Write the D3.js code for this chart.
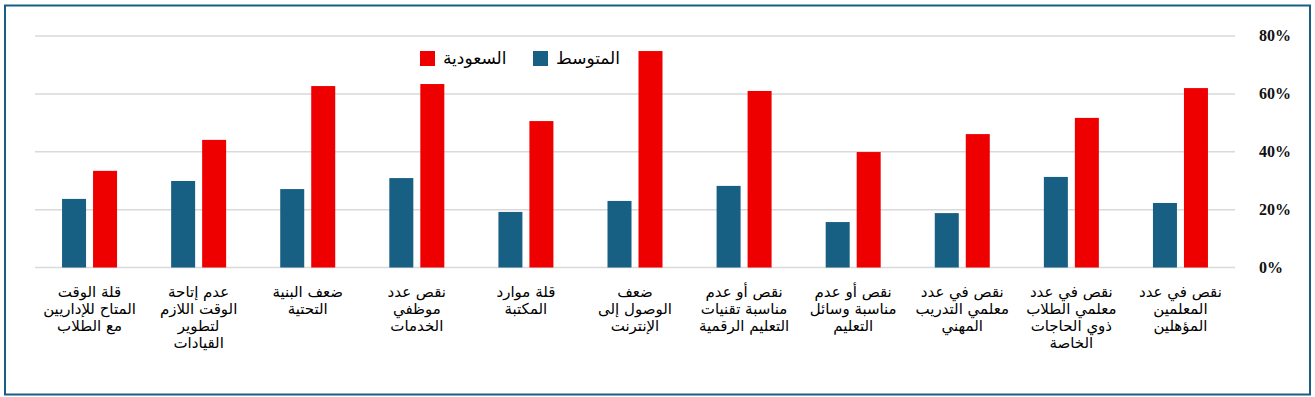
<!DOCTYPE html>
<html lang="ar">
<head>
<meta charset="utf-8">
<title>chart</title>
<script src="https://d3js.org/d3.v7.min.js"></script>
<style>
  body { margin: 0; background: #fff; }
  text { font-family: "DejaVu Sans", "Noto Sans", sans-serif; }
</style>
</head>
<body>
<div id="chart"></div>
<script>
// categories, right to left as in the original
var categories = [
  ["نقص في عدد", "المعلمين", "المؤهلين"],
  ["نقص في عدد", "معلمي الطلاب", "ذوي الحاجات", "الخاصة"],
  ["نقص في عدد", "معلمي التدريب", "المهني"],
  ["نقص أو عدم", "مناسبة وسائل", "التعليم"],
  ["نقص أو عدم", "مناسبة تقنيات", "التعليم الرقمية"],
  ["ضعف", "الوصول إلى", "الإنترنت"],
  ["قلة موارد", "المكتبة"],
  ["نقص عدد", "موظفي", "الخدمات"],
  ["ضعف البنية", "التحتية"],
  ["عدم إتاحة", "الوقت اللازم", "لتطوير", "القيادات"],
  ["قلة الوقت", "المتاح للإداريين", "مع الطلاب"]
];
var seriesNames = ["المتوسط", "السعودية"];
var avgValues   = [22.3, 31.3, 18.8, 15.7, 28.2, 23.0, 19.2, 30.9, 27.1, 29.9, 23.7];
var saudiValues = [62.0, 51.7, 46.1, 39.9, 61.0, 74.8, 50.6, 63.4, 62.7, 44.1, 33.4];
var yTicks = [0, 20, 40, 60, 80];
var colors = ["#175f83", "#ee0000"];

var W = 1315, H = 397;
var svg = d3.select("#chart").append("svg")
  .attr("width", W).attr("height", H);

// frame
svg.append("rect")
  .attr("x", 5).attr("y", 5.5)
  .attr("width", 1305).attr("height", 389)
  .attr("fill", "#fff")
  .attr("stroke", "#175f83")
  .attr("stroke-width", 2);

var plotLeft = 35, plotRight = 1235, plotTop = 36, plotBottom = 267.5;

var idx = d3.range(categories.length);
// reversed: first category drawn on the right
var x = d3.scaleBand().domain(idx).range([plotRight, plotLeft]);
var y = d3.scaleLinear().domain([0, 80]).range([plotBottom, plotTop]);

// gridlines
svg.append("g").selectAll("line")
  .data(yTicks).enter().append("line")
  .attr("x1", plotLeft).attr("x2", plotRight)
  .attr("y1", function(d) { return y(d); })
  .attr("y2", function(d) { return y(d); })
  .attr("stroke", "#d9d9d9")
  .attr("stroke-width", 1.5);

// y labels on the right
svg.append("g").selectAll("text")
  .data(yTicks).enter().append("text")
  .attr("x", 1259)
  .attr("y", function(d) { return y(d) + 5; })
  .style("font-size", "16px")
  .style("font-weight", "bold")
  .style("font-family", "'Liberation Serif', 'DejaVu Serif', serif")
  .attr("fill", "#111")
  .text(function(d) { return d + "%"; });

// bars
var barW = 24, gap = 7;
var series = [avgValues, saudiValues];
series.forEach(function(vals, s) {
  svg.append("g").selectAll("rect")
    .data(vals).enter().append("rect")
    .attr("x", function(d, i) {
      var c = x(i) + x.bandwidth() / 2;
      return s == 0 ? c - gap / 2 - barW : c + gap / 2;
    })
    .attr("y", function(d) { return y(d); })
    .attr("width", barW)
    .attr("height", function(d) { return y(0) - y(d); })
    .attr("fill", colors[s]);
});

// category labels
var lab = svg.append("g").selectAll("text")
  .data(categories).enter().append("text")
  .attr("text-anchor", "middle")
  .attr("font-size", 15)
  .attr("fill", "#000");
lab.each(function(lines, i) {
  var t = d3.select(this);
  var cx = x(i) + x.bandwidth() / 2;
  lines.forEach(function(l, k) {
    t.append("tspan")
      .attr("x", cx)
      .attr("y", 297 + k * 17)
      .text(l);
  });
});

// legend
var legend = [
  { name: seriesNames[1], color: colors[1], sx: 420 },
  { name: seriesNames[0], color: colors[0], sx: 533 }
];
legend.forEach(function(d) {
  svg.append("rect")
    .attr("x", d.sx).attr("y", 51)
    .attr("width", 15).attr("height", 15)
    .attr("fill", d.color);
  svg.append("text")
    .attr("x", d.sx + 23).attr("y", 64)
    .attr("text-anchor", "start")
    .attr("font-size", 17)
    .attr("fill", "#000")
    .text(d.name);
});
</script>
</body>
</html>
